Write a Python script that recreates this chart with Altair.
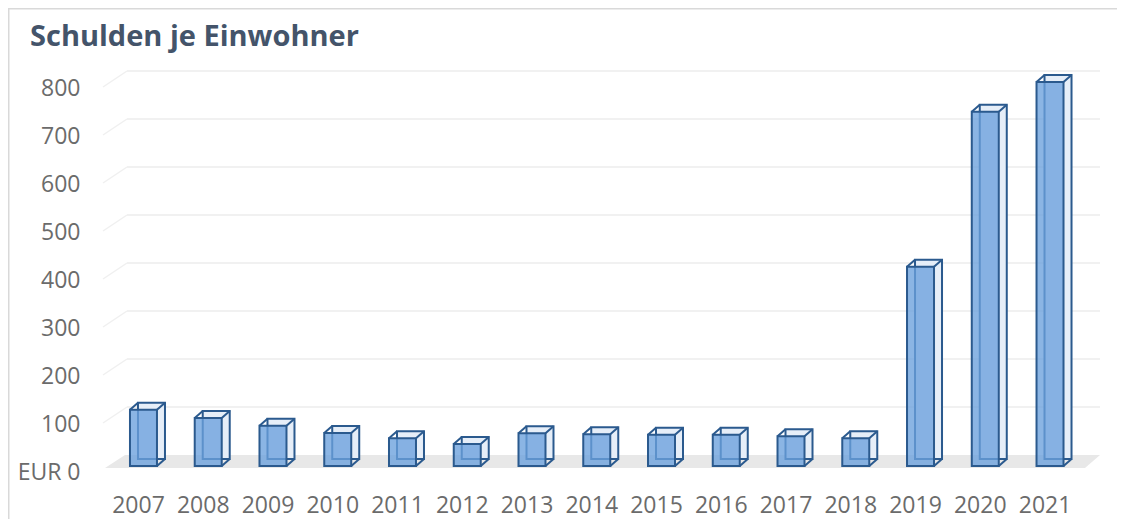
import altair as alt
import pandas as pd

years = ["2007", "2008", "2009", "2010", "2011", "2012", "2013", "2014",
         "2015", "2016", "2017", "2018", "2019", "2020", "2021"]
values = [117, 100, 84, 69, 58, 46, 68, 66, 65, 65, 62, 58, 415, 738, 800]
y_ticks = [0, 100, 200, 300, 400, 500, 600, 700, 800]
title_text = "Schulden je Einwohner"

W, H = 1109, 511
FONT = "Open Sans"
EDGE = "#2B5A8E"
BAR_W = 27
DX, DY = 8, -7

bars = pd.DataFrame({"year": years, "value": values})
grid = pd.DataFrame({"value": y_ticks[1:]})
one = pd.DataFrame({"k": [0]})

xscale = alt.Scale(domain=years, range=[103.1, 1074.4], paddingInner=0.5, paddingOuter=0.25)
yscale = alt.Scale(domain=[0, 800], range=[458, 74], nice=False)

x_axis = alt.Axis(title=None, orient="bottom", offset=-7, labelPadding=0, tickSize=0,
                  ticks=False, domain=False, grid=False, labelBaseline="alphabetic",
                  labelOffset=-5, labelAngle=0, labelFont=FONT, labelFontSize=23,
                  labelColor="#6B6B6B")
y_axis = alt.Axis(title=None, orient="left", offset=-72, labelPadding=0, tickSize=0,
                  ticks=False, domain=False, grid=False, values=y_ticks,
                  labelExpr="datum.value === 0 ? 'EUR 0' : datum.label",
                  labelOffset=6, labelBaseline="middle", labelFont=FONT,
                  labelFontSize=23, labelColor="#6B6B6B")

X = alt.X("year:N", scale=xscale, axis=x_axis, sort=years)
Y = alt.Y("value:Q", scale=yscale, axis=y_axis)
Y0 = alt.Y(datum=0, scale=yscale, axis=y_axis)

border_top = alt.Chart(one).mark_rule(color="#D9D9D9", strokeWidth=1.5).encode(
    x=alt.value(0), x2=alt.value(W), y=alt.value(0.75))
border_left = alt.Chart(one).mark_rule(color="#D9D9D9", strokeWidth=1.5).encode(
    x=alt.value(0.75), y=alt.value(0), y2=alt.value(H))

floor_path = "M -1 0.0131 L 0.9698 0.0131 L 1 -0.0131 L -0.9598 -0.0131 Z"
floor = alt.Chart(one).mark_point(shape=floor_path, size=995 ** 2, filled=True,
                                   color="#E8E8E8", opacity=1, strokeWidth=0,
                                   yOffset=-4.5).encode(
    x=alt.value(594.5), y=Y0)

gridlines = alt.Chart(grid).mark_rule(color="#ECECEC", strokeWidth=1.5, yOffset=-11).encode(
    y=Y, x=alt.value(119), x2=alt.value(1092))
grid_diag = alt.Chart(grid).mark_rule(color="#F0F0F0", strokeWidth=1.5, yOffset=5,
                                      y2Offset=-11).encode(
    y=Y, y2=alt.Y2("value:Q"), x=alt.value(95), x2=alt.value(119))

back = alt.Chart(bars).mark_bar(size=BAR_W, xOffset=DX, yOffset=DY, y2Offset=DY,
                                fill="#E6EEF8", stroke=EDGE, strokeWidth=2).encode(
    x=X, y=Y)
front = alt.Chart(bars).mark_bar(size=BAR_W, fill="#6AA0DC", fillOpacity=0.78,
                                 stroke=EDGE, strokeWidth=2).encode(x=X, y=Y)

h = BAR_W / 2
edge_tl = alt.Chart(bars).mark_rule(color=EDGE, strokeWidth=2, xOffset=-h,
                                    x2Offset=-h + DX, y2Offset=DY).encode(
    x=X, x2=alt.X2("year:N"), y=Y, y2=alt.Y2("value:Q"))
edge_tr = alt.Chart(bars).mark_rule(color=EDGE, strokeWidth=2, xOffset=h,
                                    x2Offset=h + DX, y2Offset=DY).encode(
    x=X, x2=alt.X2("year:N"), y=Y, y2=alt.Y2("value:Q"))
edge_br = alt.Chart(bars).mark_rule(color=EDGE, strokeWidth=2, xOffset=h,
                                    x2Offset=h + DX, y2Offset=DY).encode(
    x=X, x2=alt.X2("year:N"), y=Y0, y2=alt.Y2(datum=0))

title = alt.Chart(one).mark_text(align="left", baseline="alphabetic", font=FONT,
                                 fontSize=29, fontWeight="bold", color="#44546A").encode(
    x=alt.value(22), y=alt.value(38), text=alt.value(title_text))

chart = alt.layer(border_top, border_left, floor, gridlines, grid_diag, back, front,
                  edge_tl, edge_tr, edge_br, title).properties(
    width=W, height=H, padding=0, autosize=alt.AutoSizeParams(type="none")
).configure_view(stroke="transparent")

chart.save("out.html", embed_options={"renderer": "svg", "actions": False})
